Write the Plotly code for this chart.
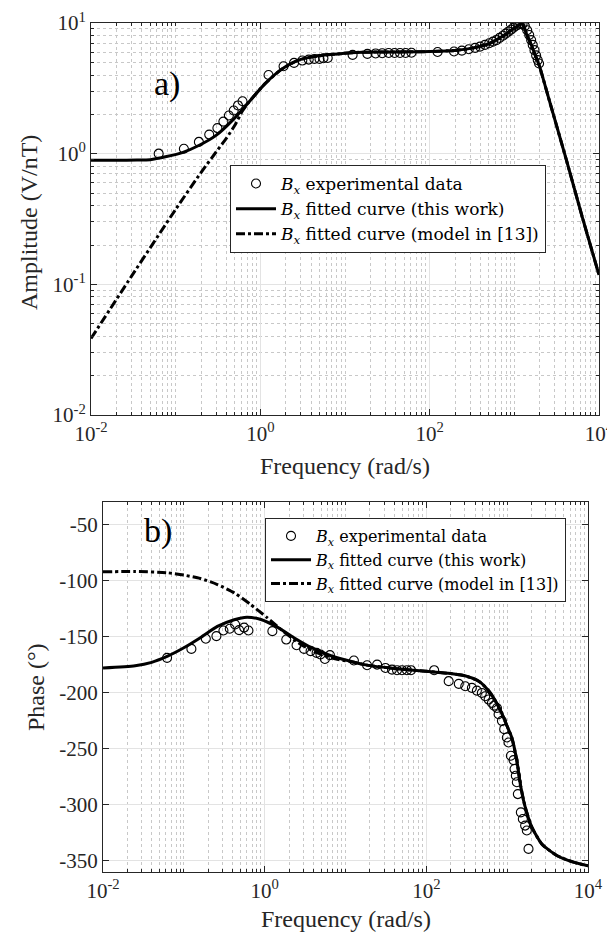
import plotly.graph_objects as go

# ---------------- data ----------------
amp_freq = [0.063, 0.125, 0.188, 0.249, 0.311, 0.366, 0.425, 0.485, 0.545, 0.616,
            1.25, 1.88, 2.5, 3.13, 3.73, 4.35, 5.0, 5.56, 6.25, 12.3,
            18.4, 23, 27.5, 32.8, 38.5, 44.7, 52, 61, 124, 194,
            240, 290, 344, 393, 450, 505, 560, 614, 670, 735,
            790, 850, 915, 975, 1040, 1110, 1180, 1250, 1330, 1420,
            1500, 1580, 1650, 1730, 1810, 1890, 1960]
amp_exp = [1.00, 1.09, 1.23, 1.40, 1.57, 1.76, 1.96, 2.14, 2.34, 2.52,
           4.0, 4.67, 4.95, 5.16, 5.25, 5.3, 5.3, 5.37, 5.4, 5.7,
           5.8, 5.85, 5.87, 5.9, 5.9, 5.9, 5.9, 5.92, 6.0, 6.05,
           6.15, 6.3, 6.45, 6.6, 6.8, 7.0, 7.2, 7.4, 7.7, 8.0,
           8.3, 8.6, 8.9, 9.2, 9.5, 9.7, 9.85, 9.8, 9.5, 8.8,
           8.1, 7.4, 6.8, 6.2, 5.65, 5.2, 4.9]

amp_fit_freq = [0.01, 0.02, 0.035, 0.05, 0.078, 0.12, 0.19, 0.3, 0.465, 0.72,
                1.13, 1.76, 2.73, 4.26, 6.65, 13.5, 30, 100, 211, 330,
                515, 800, 900, 1040, 1150, 1230, 1300, 1400, 1500, 1600,
                1750, 1977, 2500, 4110, 6410, 10000]
amp_fit = [0.89, 0.89, 0.893, 0.90, 0.95, 1.02, 1.16, 1.38, 1.79, 2.45,
           3.42, 4.4, 5.16, 5.53, 5.73, 5.95, 6.0, 6.05, 6.2, 6.45,
           7.0, 8.2, 8.75, 9.3, 9.7, 9.9, 9.4, 8.15, 7.4, 6.7,
           5.77, 4.7, 2.77, 0.9, 0.32, 0.118]

amp_ref_freq = [0.01, 0.03, 0.1, 0.2, 0.3, 0.4, 0.5, 0.614, 0.72,
                1.13, 1.76, 2.73, 4.26, 6.65, 13.5, 30, 100, 211, 330,
                515, 800, 900, 1040, 1150, 1230, 1300, 1400, 1500, 1600,
                1750, 1977, 2500, 4110, 6410, 10000]
amp_ref = [0.0385, 0.115, 0.375, 0.72, 1.03, 1.32, 1.65, 2.12, 2.45,
           3.42, 4.4, 5.16, 5.53, 5.73, 5.95, 6.0, 6.05, 6.2, 6.45,
           7.0, 8.2, 8.75, 9.3, 9.7, 9.9, 9.4, 8.15, 7.4, 6.7,
           5.77, 4.7, 2.77, 0.9, 0.32, 0.118]

ph_freq = [0.062, 0.124, 0.187, 0.253, 0.309, 0.37, 0.431, 0.483, 0.557, 0.63,
           1.245, 1.85, 2.48, 3.07, 3.7, 4.39, 4.9, 5.56, 6.42, 12.7,
           18.5, 24.6, 31.2, 37.6, 43.4, 50, 57.6, 64.6, 125, 189,
           252, 303, 366, 422, 486, 535, 590, 648, 690, 748,
           783, 861, 919, 991, 1040, 1111, 1199, 1234, 1280, 1318,
           1356, 1476, 1563, 1668, 1750, 1837]
ph_exp = [-169, -161, -152, -149.6, -144.6, -143, -139.3, -144.3, -142, -144.6,
          -145.2, -152.7, -157.7, -161, -163, -164.6, -166, -170, -166.6, -171.4,
          -175.6, -175, -178, -179.5, -180, -180, -180, -180, -180, -189.8,
          -192.2, -194.3, -195.8, -198.2, -200.3, -203.2, -206.2, -209.2, -211.6, -213.7,
          -219.3, -225.2, -232.6, -240, -244.5, -256.3, -260.2, -268.2, -274.1, -280,
          -290.5, -306.8, -312.7, -318.6, -323, -339.4]

ph_fit_freq = [0.01, 0.025, 0.04, 0.063, 0.1, 0.16, 0.26, 0.42, 0.6, 0.9,
               1.43, 2.3, 3.7, 6, 9.5, 18.5, 40, 100, 200, 300,
               450, 600, 750, 900, 1000, 1140, 1320, 1450, 1670, 2020,
               2680, 4110, 6610, 10000]
ph_fit = [-178, -176, -173, -167.5, -160, -151, -141, -135, -132.7, -134.8,
          -141.6, -151, -159.5, -166, -170.5, -175.5, -178.5, -181, -183, -185,
          -190, -199, -210, -222, -230, -240, -261, -281, -302, -320,
          -335, -345.3, -351.2, -354.5]

ph_ref_freq = [0.01, 0.025, 0.063, 0.1, 0.16, 0.26, 0.42, 0.67, 1.08, 1.73,
               2.8, 4.5, 7.2, 12.7, 18.5, 40, 100, 200, 300,
               450, 600, 750, 900, 1000, 1140, 1320, 1450, 1670, 2020,
               2680, 4110, 6610, 10000]
ph_ref = [-92.3, -92, -93.1, -95.2, -98.2, -103.6, -111, -121.4, -133.3, -145.8,
          -157, -164.6, -169.6, -173, -175.5, -178.5, -181, -183, -185,
          -190, -199, -210, -222, -230, -240, -261, -281, -302, -320,
          -335, -345.3, -351.2, -354.5]

x_tickvals = [1e-2, 1e0, 1e2, 1e4]
x_ticktext = ["10<sup>-2</sup>", "10<sup>0</sup>", "10<sup>2</sup>", "10<sup>4</sup>"]
amp_tickvals = [1e-2, 1e-1, 1e0, 1e1]
amp_ticktext = ["10<sup>-2</sup>", "10<sup>-1</sup>", "10<sup>0</sup>", "10<sup>1</sup>"]
ph_tickvals = [-350, -300, -250, -200, -150, -100, -50]
ph_ticktext = ["-350", "-300", "-250", "-200", "-150", "-100", "-50"]

legend_names = ["<i>B</i><sub><i>x</i></sub> experimental data",
                "<i>B</i><sub><i>x</i></sub> fitted curve (this work)",
                "<i>B</i><sub><i>x</i></sub> fitted curve (model in [13])"]

# ---------------- figure ----------------
FONT = "'Liberation Serif', 'Times New Roman', Times, serif"
LEGFONT = "'DejaVu Serif', serif"
W, H = 615, 934
fig = go.Figure()

def add_set(xe, ye, xf, yf, xr, yr, xa, ya, leg):
    fig.add_trace(go.Scatter(x=xe, y=ye, mode="markers", name=legend_names[0],
                             marker=dict(symbol="circle-open", size=9, color="black",
                                         line=dict(width=1.1, color="black")),
                             xaxis=xa, yaxis=ya, legend=leg))
    fig.add_trace(go.Scatter(x=xf, y=yf, mode="lines", name=legend_names[1],
                             line=dict(color="black", width=3, shape="spline", smoothing=0.6),
                             xaxis=xa, yaxis=ya, legend=leg))
    fig.add_trace(go.Scatter(x=xr, y=yr, mode="lines", name=legend_names[2],
                             line=dict(color="black", width=3, dash="dashdot",
                                       shape="spline", smoothing=0.6),
                             xaxis=xa, yaxis=ya, legend=leg))

add_set(amp_freq, amp_exp, amp_fit_freq, amp_fit, amp_ref_freq, amp_ref, "x", "y", "legend")
add_set(ph_freq, ph_exp, ph_fit_freq, ph_fit, ph_ref_freq, ph_ref, "x2", "y2", "legend2")

axis_common = dict(showline=True, linecolor="#262626", linewidth=1, mirror="allticks",
                   ticks="inside", ticklen=6, tickcolor="#262626",
                   tickfont=dict(family=FONT, size=21, color="#262626"),
                   ticklabeloverflow="allow",
                   showgrid=True, gridcolor="#e3e3e3", gridwidth=1,
                   zeroline=False, automargin=False)

minor_log = dict(ticks="inside", ticklen=3, tickcolor="#262626", dtick="D1",
                 showgrid=True, gridcolor="#c8c8c8", griddash="dot", gridwidth=1)

def px2x(p):
    return p / W

def px2y(p):
    return 1 - p / H

fig.update_layout(
    width=W, height=H, autosize=False,
    margin=dict(l=0, r=0, t=0, b=0),
    paper_bgcolor="white", plot_bgcolor="white",
    xaxis=dict(type="log", range=[-2.0001, 4.0001], domain=[px2x(83), px2x(591)], anchor="y",
               tickvals=x_tickvals, ticktext=x_ticktext, minor=minor_log, **axis_common),
    yaxis=dict(type="log", range=[-2.0001, 1.0001], domain=[px2y(407), px2y(15)], anchor="x",
               tickvals=amp_tickvals, ticktext=amp_ticktext, minor=minor_log, **axis_common),
    xaxis2=dict(type="log", range=[-2.0001, 4.0001], domain=[px2x(95), px2x(580)], anchor="y2",
                tickvals=x_tickvals, ticktext=x_ticktext, minor=minor_log, **axis_common),
    yaxis2=dict(range=[-360, -30], domain=[px2y(864), px2y(494)], anchor="x2",
                tickvals=ph_tickvals, ticktext=ph_ticktext, **axis_common),
    legend=dict(x=px2x(222), y=px2y(157), xanchor="left", yanchor="top",
                bgcolor="white", bordercolor="#262626", borderwidth=1,
                font=dict(family=LEGFONT, size=17, color="black"),
                tracegroupgap=0, itemwidth=40),
    legend2=dict(x=px2x(257), y=px2y(510), xanchor="left", yanchor="top",
                 bgcolor="white", bordercolor="#262626", borderwidth=1,
                 font=dict(family=LEGFONT, size=16, color="black"),
                 tracegroupgap=0, itemwidth=40),
    showlegend=True,
)

ann_font = dict(family=FONT, size=24, color="#262626")
annotations = [
    dict(text="a)", x=px2x(159), y=px2y(76), font=dict(family=FONT, size=34, color="black")),
    dict(text="b)", x=px2x(150), y=px2y(523), font=dict(family=FONT, size=34, color="black")),
    dict(text="Frequency (rad/s)", x=px2x(337), y=px2y(458), font=ann_font),
    dict(text="Frequency (rad/s)", x=px2x(338), y=px2y(911), font=ann_font),
    dict(text="Amplitude (V/nT)", x=px2x(21), y=px2y(215), textangle=-90, font=ann_font),
    dict(text="Phase (°)", x=px2x(28), y=px2y(679), textangle=-90, font=ann_font),
]
for a in annotations:
    fig.add_annotation(xref="paper", yref="paper", showarrow=False,
                       xanchor="center", yanchor="middle", **a)

fig.write_html("out.html")
